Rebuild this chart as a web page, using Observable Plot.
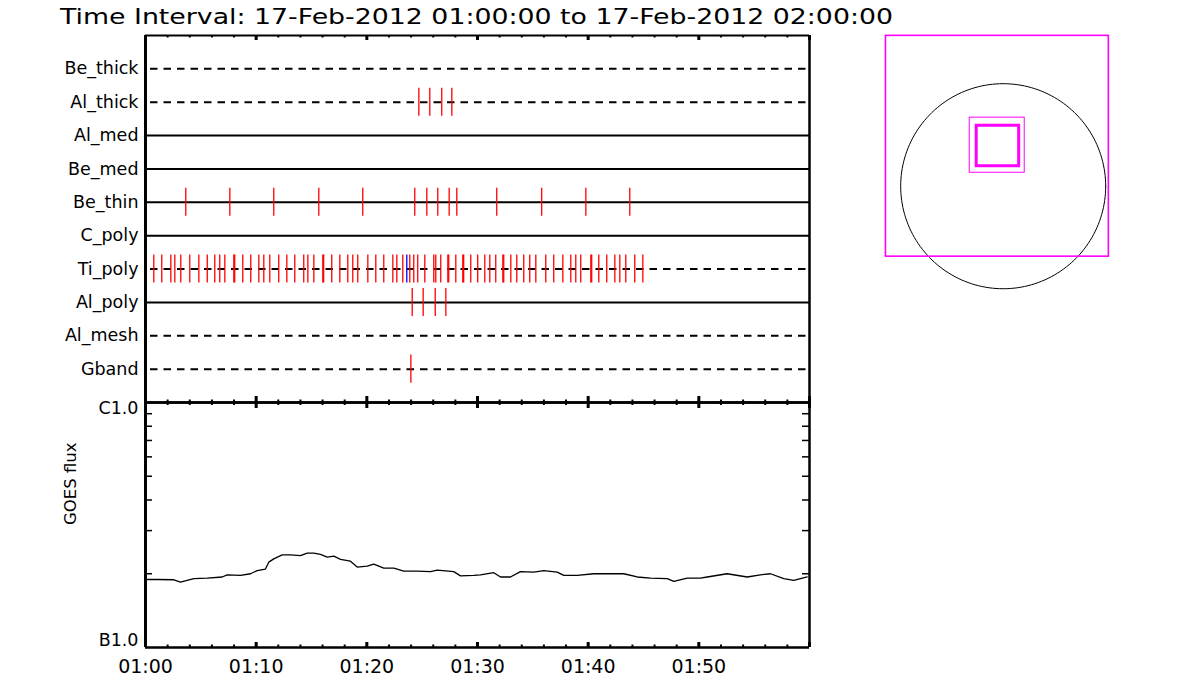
<!DOCTYPE html>
<html>
<head>
<meta charset="utf-8">
<script src="https://cdn.jsdelivr.net/npm/d3@7"></script>
<script src="https://cdn.jsdelivr.net/npm/@observablehq/plot@0.6"></script>
<style>
  html, body { margin: 0; padding: 0; background: #fff; }
  #root { position: relative; width: 1200px; height: 700px; overflow: hidden; font-family: "DejaVu Sans", sans-serif; }
  .abs { position: absolute; }
  #title { left: 60px; top: 4px; font-size: 22px; white-space: nowrap; color: #000; transform-origin: 0 0; line-height: 26px; }
</style>
</head>
<body>
<div id="root">
  <div id="title" class="abs"><span id="titleText">Time Interval: 17-Feb-2012 01:00:00 to 17-Feb-2012 02:00:00</span></div>
  <div id="top" class="abs" style="left:0;top:30px"></div>
  <div id="goes" class="abs" style="left:0;top:395px"></div>
  <div id="sun" class="abs" style="left:870px;top:20px"></div>
</div>
<script>
// ---------------- data ----------------
const filters = ["Be_thick", "Al_thick", "Al_med", "Be_med", "Be_thin", "C_poly", "Ti_poly", "Al_poly", "Al_mesh", "Gband"];
const dashedFilters = ["Be_thick", "Al_thick", "Ti_poly", "Al_mesh", "Gband"];

// observation times, minutes after 01:00 UT
const obsBeThin = [3.64, 7.62, 11.59, 15.66, 19.63, 24.33, 25.42, 26.41, 27.44, 28.13, 31.74, 35.80, 39.79, 43.76];
const obsAlThick = [24.70, 25.69, 26.77, 27.68];
const obsAlPoly = [24.10, 25.09, 26.18, 27.14];
const obsGband = [23.98];
const obsTiPoly = [0.03, 0.75, 1.47, 2.29, 2.65, 3.19, 4.00, 4.82, 5.58, 6.26, 6.71, 7.17, 7.98, 8.06, 8.79, 9.51,
  10.24, 10.69, 11.23, 12.04, 12.77, 13.49, 14.30, 14.67, 15.21, 16.02, 16.10, 16.83, 17.56, 18.28, 18.73, 19.18,
  20.09, 20.81, 21.53, 22.35, 22.71, 23.25, 23.88, 24.24, 24.60, 25.24, 26.05, 26.23, 26.68, 27.32, 27.40, 28.04,
  28.67, 28.75, 29.39, 30.02, 30.66, 31.11, 31.65, 32.29, 32.37, 33.01, 33.55, 34.18, 34.72, 35.27, 36.17, 36.89,
  37.71, 38.43, 38.88, 39.33, 40.24, 40.32, 40.96, 41.68, 42.41, 42.86, 43.40, 44.21, 44.94];
const obsTiPolyBlue = [23.61];

// GOES flux (minutes after 01:00, flux in units of 1e-7 W/m^2)
const goesMinutes = [0, 1.05, 2.56, 3.16, 4.37, 5.57, 6.93, 7.38, 8.58, 9.49, 10.09, 10.84, 11.14, 11.59, 12.35, 13.10,
  14.00, 14.61, 15.21, 15.81, 16.42, 17.02, 17.62, 18.52, 19.13, 20.03, 20.63, 21.53, 22.44, 23.34, 24.55, 25.75,
  26.36, 27.86, 28.46, 29.67, 30.27, 31.47, 32.08, 32.98, 33.88, 35.09, 35.99, 37.20, 37.80, 39.01, 40.51, 42.02,
  43.22, 44.43, 45.63, 47.14, 47.74, 48.95, 50.15, 50.75, 52.56, 54.37, 55.57, 56.47, 57.68, 58.58, 59.79];
const goesFlux = [1.895, 1.895, 1.89, 1.85, 1.91, 1.92, 1.94, 1.98, 1.97, 2.00, 2.06, 2.09, 2.23, 2.30, 2.39, 2.39,
  2.37, 2.43, 2.43, 2.40, 2.34, 2.36, 2.29, 2.25, 2.13, 2.15, 2.19, 2.11, 2.11, 2.05, 2.05, 2.04,
  2.07, 2.04, 1.96, 1.97, 1.98, 2.02, 1.94, 1.94, 2.04, 2.03, 2.06, 2.03, 1.97, 1.97, 2.00, 2.00,
  2.00, 1.94, 1.92, 1.91, 1.86, 1.92, 1.92, 1.94, 2.00, 1.94, 1.98, 2.00, 1.91, 1.88, 1.94];

const fluxTopLabel = "C1.0";
const fluxBottomLabel = "B1.0";
const timeLabels = ["01:00", "01:10", "01:20", "01:30", "01:40", "01:50"];

// context image (arcsec)
const sunRadius = 975;
const fovBoxes = [
  {name: "fov", x1: -1115, x2: 1005, y1: -670, y2: 1430},
  {name: "outer", x1: -318, x2: 205, y1: 128, y2: 652},
  {name: "inner", x1: -252, x2: 152, y1: 190, y2: 575}
];

// ---------------- helpers ----------------
const base = Date.UTC(2012, 1, 17, 1, 0, 0);
const t = m => new Date(base + m * 60000);
const tStart = t(0), tEnd = t(60);
const minorTicks = d3.utcMinute.every(2).range(tStart, t(60.01));
const majorTicks = d3.utcMinute.every(10).range(tStart, t(60.01));
const rowIndex = name => filters.length - filters.indexOf(name);

const obs = [];
const addObs = (name, arr, color) => arr.forEach(m => obs.push({filter: name, time: t(m), color}));
addObs("Be_thin", obsBeThin, "#ff0000");
addObs("Al_thick", obsAlThick, "#ff0000");
addObs("Al_poly", obsAlPoly, "#ff0000");
addObs("Gband", obsGband, "#ff0000");
addObs("Ti_poly", obsTiPoly, "#ff0000");
addObs("Ti_poly", obsTiPolyBlue, "#0000ff");

const goes = goesMinutes.map((m, i) => ({time: t(m), flux: goesFlux[i] * 1e-7}));

const W = 830, ML = 145, MR = 21;
const fontFamily = "DejaVu Sans, sans-serif";

// ---------------- top panel ----------------
const H1 = 367;
const topPlot = Plot.plot({
  width: W, height: H1 + 10,
  marginLeft: ML, marginRight: MR, marginTop: 5, marginBottom: 5,
  style: {background: "transparent", overflow: "visible", fontFamily},
  x: {type: "utc", domain: [tStart, tEnd], axis: null},
  y: {domain: [0, filters.length + 1], axis: null},
  marks: [
    Plot.ruleY(filters.filter(f => !dashedFilters.includes(f)), {y: rowIndex, stroke: "#000", strokeWidth: 2}),
    Plot.ruleY(dashedFilters, {y: rowIndex, stroke: "#000", strokeWidth: 2, strokeDasharray: "7.5,6", insetLeft: 5}),
    Plot.ruleX(obs, {x: "time", y1: d => rowIndex(d.filter) - 0.42, y2: d => rowIndex(d.filter) + 0.42, stroke: "color", strokeWidth: 1.3}),
    Plot.text(filters, {x: tStart, y: rowIndex, text: d => d, textAnchor: "end", dx: -7, fontSize: 17.5, fill: "#000"}),
    // frame
    Plot.ruleX([tStart], {stroke: "#000", strokeWidth: 3}),
    Plot.ruleX([tEnd], {stroke: "#000", strokeWidth: 2.5}),
    Plot.ruleY([filters.length + 1], {stroke: "#000", strokeWidth: 2}),
    Plot.ruleY([0], {stroke: "#000", strokeWidth: 2.5}),
    // time ticks on top edge (downward) and bottom edge (upward)
    Plot.ruleX(minorTicks, {x: d => d, insetBottom: H1 - 2.5, stroke: "#000", strokeWidth: 2}),
    Plot.ruleX(majorTicks, {x: d => d, insetBottom: H1 - 5, stroke: "#000", strokeWidth: 3}),
    Plot.ruleX(minorTicks, {x: d => d, insetTop: H1 - 2.5, stroke: "#000", strokeWidth: 2}),
    Plot.ruleX(majorTicks, {x: d => d, insetTop: H1 - 6, stroke: "#000", strokeWidth: 3})
  ]
});
document.getElementById("top").appendChild(topPlot);

// ---------------- GOES panel ----------------
const H2 = 245;
const minorFlux = d3.range(2, 10).map(k => k * 1e-7);
const goesPlot = Plot.plot({
  width: W, height: H2 + 47,
  marginLeft: ML, marginRight: MR, marginTop: 7, marginBottom: 40,
  style: {background: "transparent", overflow: "visible", fontFamily},
  x: {type: "utc", domain: [tStart, tEnd], axis: null},
  y: {type: "log", domain: [1e-7, 1e-6], axis: null},
  marks: [
    Plot.line(goes, {x: "time", y: "flux", stroke: "#000", strokeWidth: 1.3}),
    // frame
    Plot.ruleX([tStart], {stroke: "#000", strokeWidth: 3}),
    Plot.ruleX([tEnd], {stroke: "#000", strokeWidth: 2.5}),
    Plot.ruleY([1e-6], {stroke: "#000", strokeWidth: 2.5}),
    Plot.ruleY([1e-7], {stroke: "#000", strokeWidth: 2.5}),
    // log minor ticks left / right
    Plot.ruleY(minorFlux, {y: d => d, insetRight: (W - ML - MR) - 7, stroke: "#000", strokeWidth: 1.5}),
    Plot.ruleY(minorFlux, {y: d => d, insetLeft: (W - ML - MR) - 7, stroke: "#000", strokeWidth: 1.5}),
    // time ticks top (downward) and bottom (upward)
    Plot.ruleX(minorTicks, {x: d => d, insetBottom: H2 - 3, stroke: "#000", strokeWidth: 2}),
    Plot.ruleX(majorTicks, {x: d => d, insetBottom: H2 - 6, stroke: "#000", strokeWidth: 3}),
    Plot.ruleX(minorTicks, {x: d => d, insetTop: H2 - 2.5, stroke: "#000", strokeWidth: 2}),
    Plot.ruleX(majorTicks, {x: d => d, insetTop: H2 - 5, stroke: "#000", strokeWidth: 3}),
    // labels
    Plot.text(majorTicks.slice(0, timeLabels.length), {x: d => d, y: 1e-7, text: (d, i) => timeLabels[i], dy: 19, fontSize: 19, fill: "#000"}),
    Plot.text([fluxTopLabel], {x: tStart, y: 1e-6, text: d => d, textAnchor: "end", dx: -7, dy: 6, fontSize: 17.5, fill: "#000"}),
    Plot.text([fluxBottomLabel], {x: tStart, y: 1e-7, text: d => d, textAnchor: "end", dx: -7, dy: -7, fontSize: 17.5, fill: "#000"}),
    Plot.text(["GOES flux"], {frameAnchor: "left", text: d => d, rotate: -90, dx: -75, fontSize: 16.5, fill: "#000"})
  ]
});
document.getElementById("goes").appendChild(goesPlot);

// ---------------- context image ----------------
const circle = d3.range(0, 361, 2).map(a => ({x: sunRadius * Math.cos(a * Math.PI / 180), y: sunRadius * Math.sin(a * Math.PI / 180)}));
const boxStroke = {fov: 1.6, outer: 1, inner: 3};
const sunPlot = Plot.plot({
  width: 250, height: 290, margin: 0,
  style: {background: "transparent", overflow: "visible"},
  x: {domain: [-1262, 1116], axis: null},
  y: {domain: [-1182, 1576], axis: null},
  marks: [
    Plot.line(circle, {x: "x", y: "y", stroke: "#000", strokeWidth: 1}),
    Plot.rect(fovBoxes, {x1: "x1", x2: "x2", y1: "y1", y2: "y2", fill: "none", stroke: "#ff00ff", strokeWidth: d => boxStroke[d.name]})
  ]
});
document.getElementById("sun").appendChild(sunPlot);

// fit title width to the reference span
const span = document.getElementById("titleText");
const w = span.getBoundingClientRect().width;
document.getElementById("title").style.transform = `scaleX(${833 / w})`;
</script>
</body>
</html>
